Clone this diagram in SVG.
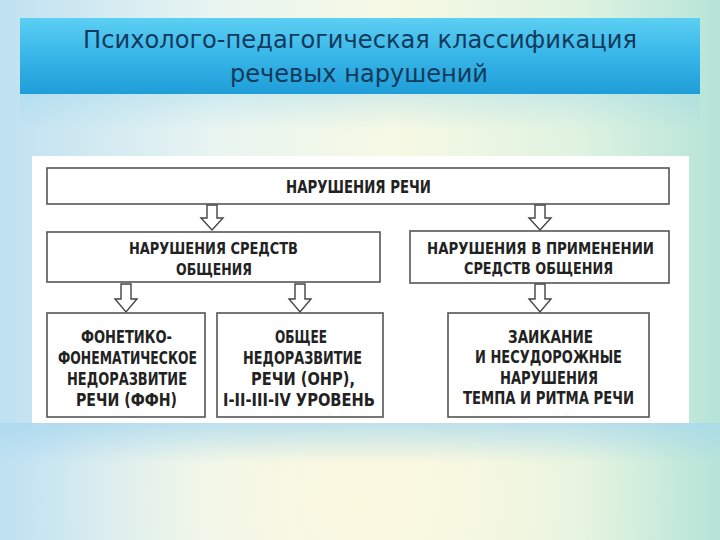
<svg xmlns="http://www.w3.org/2000/svg" width="720" height="540" viewBox="0 0 720 540">
<defs>
<linearGradient id="bgH" x1="0" y1="0" x2="1" y2="0">
<stop offset="0" stop-color="#bfe1f2"/>
<stop offset="0.3" stop-color="#e9f5f1"/>
<stop offset="0.55" stop-color="#f6f9e4"/>
<stop offset="0.8" stop-color="#e0f3e1"/>
<stop offset="1" stop-color="#b6e4d8"/>
</linearGradient>
<radialGradient id="glow" cx="0.5" cy="0.92" r="0.45">
<stop offset="0" stop-color="#fbf8df" stop-opacity="0.95"/>
<stop offset="1" stop-color="#fbf8df" stop-opacity="0"/>
</radialGradient>
<linearGradient id="bar" x1="0" y1="0" x2="0" y2="1">
<stop offset="0" stop-color="#5ccff3"/>
<stop offset="0.5" stop-color="#38b6e8"/>
<stop offset="1" stop-color="#1f9dd8"/>
</linearGradient>
<linearGradient id="refl" x1="0" y1="0" x2="0" y2="1">
<stop offset="0" stop-color="#9ad6ec" stop-opacity="0.35"/>
<stop offset="1" stop-color="#9ad6ec" stop-opacity="0"/>
</linearGradient>
<linearGradient id="band" x1="0" y1="0" x2="0" y2="1">
<stop offset="0" stop-color="#a7d7ee" stop-opacity="0.7"/>
<stop offset="1" stop-color="#a7d7ee" stop-opacity="0"/>
</linearGradient>
<style>
.box{fill:#ffffff;stroke:#555555;stroke-width:1.6}
.arr{fill:#ffffff;stroke:#444444;stroke-width:1.4;stroke-linejoin:miter}
.t{font-family:"DejaVu Sans","Liberation Sans",sans-serif;font-weight:bold;font-size:17px;fill:#222222;text-anchor:middle}
.s{font-size:16px}
.title{font-family:"DejaVu Sans","Liberation Sans",sans-serif;font-size:25px;fill:#123a5c;text-anchor:middle}
</style>
</defs>
<rect x="0" y="0" width="720" height="540" fill="url(#bgH)"/>
<rect x="0" y="0" width="720" height="540" fill="url(#glow)"/>
<rect x="20" y="94" width="680" height="36" fill="url(#refl)"/>
<rect x="0" y="423" width="720" height="40" fill="url(#band)"/>
<g id="title">
<rect x="20" y="18" width="680" height="76" fill="url(#bar)"/>
<text class="title" x="360" y="48" textLength="554" lengthAdjust="spacingAndGlyphs">Психолого-педагогическая классификация</text>
<text class="title" x="359" y="82" textLength="258" lengthAdjust="spacingAndGlyphs">речевых нарушений</text>
</g>
<rect x="32" y="156" width="657" height="267" fill="#ffffff"/>
<g id="connectors">
<path class="arr" d="M207,205 h10 v13 h6 l-11,12 l-11,-12 h6 z"/>
<path class="arr" d="M535,205 h10 v13 h6 l-11,12 l-11,-12 h6 z"/>
<path class="arr" d="M121,284 h10 v15 h6 l-11,13 l-11,-13 h6 z"/>
<path class="arr" d="M295,284 h10 v15 h6 l-11,13 l-11,-13 h6 z"/>
<path class="arr" d="M535,284 h10 v15 h6 l-11,13 l-11,-13 h6 z"/>
</g>
<g id="n-speech">
<rect class="box" x="47" y="168" width="622" height="36"/>
<text class="t" x="358.5" y="193" textLength="145" lengthAdjust="spacingAndGlyphs">НАРУШЕНИЯ РЕЧИ</text>
</g>
<g id="n-means">
<rect class="box" x="47" y="232" width="333" height="50"/>
<text class="t s" x="213.5" y="254" textLength="169" lengthAdjust="spacingAndGlyphs">НАРУШЕНИЯ СРЕДСТВ</text>
<text class="t s" x="214" y="274.5" textLength="76" lengthAdjust="spacingAndGlyphs">ОБЩЕНИЯ</text>
</g>
<g id="n-use">
<rect class="box" x="410" y="231" width="259" height="52"/>
<text class="t s" x="540.5" y="254" textLength="227" lengthAdjust="spacingAndGlyphs">НАРУШЕНИЯ В ПРИМЕНЕНИИ</text>
<text class="t s" x="538.5" y="274" textLength="149" lengthAdjust="spacingAndGlyphs">СРЕДСТВ ОБЩЕНИЯ</text>
</g>
<g id="n-ffn">
<rect class="box" x="47" y="313" width="158" height="104"/>
<text class="t" x="126.5" y="343" textLength="91" lengthAdjust="spacingAndGlyphs">ФОНЕТИКО-</text>
<text class="t" x="127.5" y="363.5" textLength="139" lengthAdjust="spacingAndGlyphs">ФОНЕМАТИЧЕСКОЕ</text>
<text class="t" x="127" y="384.5" textLength="120" lengthAdjust="spacingAndGlyphs">НЕДОРАЗВИТИЕ</text>
<text class="t" x="126.5" y="405.5" textLength="101" lengthAdjust="spacingAndGlyphs">РЕЧИ (ФФН)</text>
</g>
<g id="n-onr">
<rect class="box" x="217" y="313" width="166" height="104"/>
<text class="t" x="301" y="343" textLength="52" lengthAdjust="spacingAndGlyphs">ОБЩЕЕ</text>
<text class="t" x="302.5" y="363.5" textLength="119" lengthAdjust="spacingAndGlyphs">НЕДОРАЗВИТИЕ</text>
<text class="t" x="303" y="384.5" textLength="104" lengthAdjust="spacingAndGlyphs">РЕЧИ (ОНР),</text>
<text class="t" x="299" y="405.5" textLength="152" lengthAdjust="spacingAndGlyphs">I-II-III-IV УРОВЕНЬ</text>
</g>
<g id="n-stutter">
<rect class="box" x="448" y="313" width="201" height="104"/>
<text class="t" x="550.5" y="342.5" textLength="85" lengthAdjust="spacingAndGlyphs">ЗАИКАНИЕ</text>
<text class="t" x="548.5" y="363" textLength="147" lengthAdjust="spacingAndGlyphs">И НЕСУДОРОЖНЫЕ</text>
<text class="t" x="549" y="383.5" textLength="98" lengthAdjust="spacingAndGlyphs">НАРУШЕНИЯ</text>
<text class="t" x="548.5" y="404" textLength="171" lengthAdjust="spacingAndGlyphs">ТЕМПА И РИТМА РЕЧИ</text>
</g>
</svg>
